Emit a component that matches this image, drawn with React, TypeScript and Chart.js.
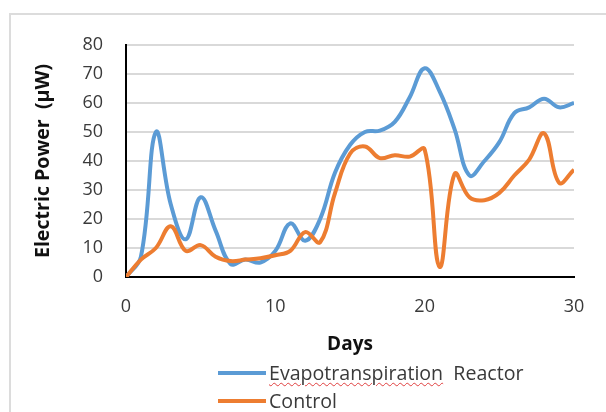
import React, { useEffect, useRef } from "react";
import { Chart, registerables } from "chart.js";

Chart.register(...registerables);

const days = [0, 1, 2, 3, 4, 5, 6, 7, 8, 9, 10, 11, 12, 13, 14, 15, 16, 17, 18, 19, 20, 21, 22, 23, 24, 25, 26, 27, 28, 29, 30];
const evapoReactor = [0, 7, 50, 25, 13, 27.5, 16, 4.5, 6, 5, 9, 18.5, 12.5, 20, 36, 45.5, 50, 50.5, 53.5, 62, 72, 64, 51, 35, 40, 46.5, 56.5, 58.5, 61.5, 58.5, 60];
const control = [0, 6, 10, 17.5, 9, 11, 7, 5.5, 6, 6.5, 7.5, 9, 15.5, 12, 29, 42.5, 45, 41, 42, 41.5, 44, 3.5, 35.5, 27.5, 26.5, 29, 35, 40.5, 49.5, 32.5, 37];
const seriesNames = ["Evapotranspiration", "Reactor", "Control"];
const xTitle = "Days";
const yTitle = "Electric Power  (μW)";

const FONT = "'Open Sans', 'Noto Sans', sans-serif";
const TEXT = "#3a3a3a";
const BLUE = "#5b9bd5";
const ORANGE = "#ed7d31";

export default function App() {
  const ref = useRef<HTMLCanvasElement | null>(null);

  useEffect(() => {
    document.body.style.margin = "0";
    const canvas = ref.current;
    if (!canvas) return;
    const chart = new Chart(canvas, {
      type: "line",
      data: {
        datasets: [
          {
            label: seriesNames[0] + "  " + seriesNames[1],
            data: days.map((d, i) => ({ x: d, y: evapoReactor[i] })),
            borderColor: BLUE,
            backgroundColor: BLUE,
            borderWidth: 4,
            pointRadius: 0,
            tension: 0.4,
            order: 1,
          },
          {
            label: seriesNames[2],
            data: days.map((d, i) => ({ x: d, y: control[i] })),
            borderColor: ORANGE,
            backgroundColor: ORANGE,
            borderWidth: 4,
            pointRadius: 0,
            tension: 0.4,
            order: 0,
          },
        ],
      },
      options: {
        animation: false,
        responsive: false,
        maintainAspectRatio: false,
        layout: { padding: { left: 0, right: 32, top: 45, bottom: 56 } },
        plugins: {
          legend: { display: false },
          tooltip: { enabled: false },
        },
        scales: {
          x: {
            type: "linear",
            min: 0,
            max: 30,
            ticks: {
              stepSize: 10,
              padding: 19,
              color: TEXT,
              font: { family: FONT, size: 18 },
            },
            grid: { display: false, drawTicks: false },
            border: { display: true, color: "#000", width: 2 },
            title: {
              display: true,
              text: xTitle,
              color: "#111",
              font: { family: FONT, size: 19, weight: "bold" },
              padding: { top: 0, bottom: 0 },
            },
            afterFit: (s: any) => {
              s.height = 79;
            },
          },
          y: {
            min: 0,
            max: 80,
            ticks: {
              stepSize: 10,
              padding: 23,
              color: TEXT,
              font: { family: FONT, size: 18 },
            },
            grid: { color: "#d9d9d9", lineWidth: 2, drawTicks: false },
            border: { display: true, color: "#000", width: 2 },
            title: {
              display: true,
              text: yTitle,
              color: "#111",
              font: { family: FONT, size: 19.6, weight: "bold" },
              padding: { top: 32, bottom: 0 },
            },
            afterFit: (s: any) => {
              s.width = 126;
            },
          },
        },
      },
    });
    return () => chart.destroy();
  }, []);

  const row = (top: number, color: string, content: React.ReactNode) => (
    <div
      style={{
        position: "absolute",
        left: 218,
        top: top - 14,
        height: 28,
        display: "flex",
        alignItems: "center",
        fontFamily: FONT,
        fontSize: 19.6,
        color: TEXT,
        whiteSpace: "pre",
      }}
    >
      <div style={{ width: 48, height: 4, background: color, marginRight: 3 }} />
      <span style={{ lineHeight: "28px" }}>{content}</span>
    </div>
  );

  return (
    <div style={{ position: "relative", width: 606, height: 412, overflow: "hidden", background: "#fff" }}>
      <div
        style={{
          position: "absolute",
          left: 9,
          top: 13,
          width: 700,
          height: 500,
          borderLeft: "2px solid #dcdcdc",
          borderTop: "2px solid #dcdcdc",
        }}
      />
      <canvas ref={ref} width={606} height={412} style={{ position: "absolute", left: 0, top: 0, width: 606, height: 412 }} />
      {row(
        373,
        BLUE,
        <>
          <span style={{ textDecoration: "underline wavy #e04040", textDecorationThickness: 1, textUnderlineOffset: 2 }}>
            {seriesNames[0]}
          </span>
          {"  " + seriesNames[1]}
        </>
      )}
      {row(401, ORANGE, seriesNames[2])}
    </div>
  );
}
